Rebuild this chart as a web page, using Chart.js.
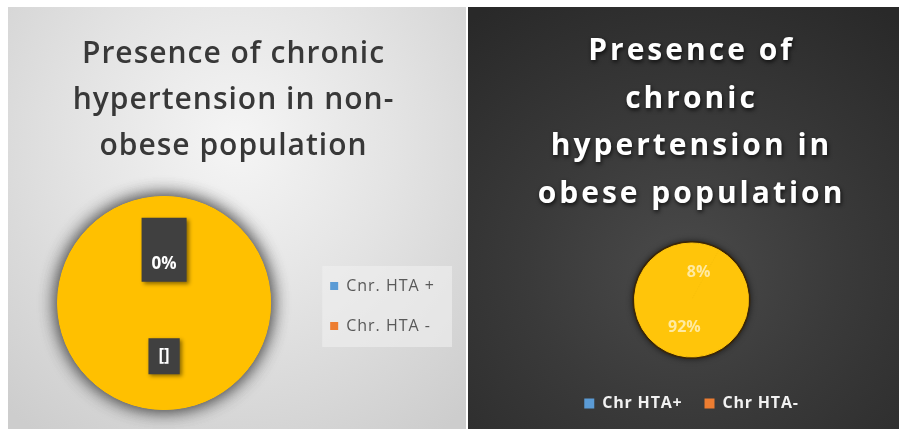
<!DOCTYPE html>
<html>
<head>
<meta charset="utf-8">
<title>Chronic hypertension by obesity status</title>
<script src="https://cdn.jsdelivr.net/npm/chart.js@4.4.1/dist/chart.umd.min.js"></script>
<style>
  html, body { margin: 0; padding: 0; background: #ffffff; }
  body { width: 899px; height: 429px; position: relative; overflow: hidden; }
  .panel { position: absolute; top: 7px; height: 422px; }
  #leftPanel {
    left: 8px; width: 458px;
    background: radial-gradient(ellipse 75% 85% at 50% 32%, #f5f5f5 0%, #e4e4e4 45%, #cdcdcd 100%);
  }
  #rightPanel {
    left: 468px; width: 431px;
    background: radial-gradient(ellipse 80% 75% at 50% 62%, #4a4a4a 0%, #3a3a3a 45%, #292929 100%);
  }
  canvas { display: block; }
</style>
</head>
<body>
<div class="panel" id="leftPanel"><canvas id="leftChart" width="458" height="422"></canvas></div>
<div class="panel" id="rightPanel"><canvas id="rightChart" width="431" height="422"></canvas></div>
<script>
// ---- data ----
const leftTitle = ['Presence of chronic', 'hypertension in non-', 'obese population'];
const leftCategories = ['Cnr. HTA +', 'Chr. HTA -'];
const leftValues = [0, 100];
const leftLabels = [['', '0%'], ['[]']];

const rightTitle = ['Presence of', 'chronic', 'hypertension in', 'obese population'];
const rightCategories = ['Chr HTA+', 'Chr HTA-'];
const rightValues = [8, 92];
const rightLabels = ['8%', '92%'];

const legendColors = ['#5B9BD5', '#ED7D31'];

// ---- helpers ----
function swatchLabels(colors, textColor) {
  return (chart) => chart.data.labels.map((text, i) => ({
    text,
    fillStyle: colors[i],
    strokeStyle: colors[i],
    lineWidth: 0,
    fontColor: textColor,
    hidden: false,
    index: i,
    datasetIndex: 0
  }));
}

// Letter spacing / shadow for title and legend, plus an optional legend backdrop.
const panelText = {
  id: 'panelText',
  beforeLayout(chart, args, o) {
    chart.ctx.letterSpacing = o.legendSpacing || '0px';
  },
  beforeDraw(chart, args, o) {
    const ctx = chart.ctx;
    ctx.letterSpacing = o.legendSpacing || '0px';
    const tb = chart.titleBlock;
    if (tb && !tb.__styled) {
      const base = tb.draw;
      tb.draw = function (area) {
        ctx.save();
        ctx.letterSpacing = o.titleSpacing || '0px';
        if (o.titleShadow) {
          ctx.shadowColor = o.titleShadow.color;
          ctx.shadowBlur = o.titleShadow.blur;
          ctx.shadowOffsetX = o.titleShadow.x;
          ctx.shadowOffsetY = o.titleShadow.y;
        }
        base.call(this, area);
        ctx.restore();
      };
      tb.__styled = true;
    }
    if (o.legendBackdrop) {
      const boxes = chart.legend.legendHitBoxes;
      if (boxes && boxes.length) {
        const b = o.legendBackdrop;
        let l = Infinity, t = Infinity, r = -Infinity, btm = -Infinity;
        boxes.forEach(h => {
          l = Math.min(l, h.left); t = Math.min(t, h.top);
          r = Math.max(r, h.left + h.width); btm = Math.max(btm, h.top + h.height);
        });
        ctx.save();
        ctx.fillStyle = b.color;
        ctx.fillRect(l - b.padLeft, t - b.padTop, (r - l) + b.padLeft + b.padRight, (btm - t) + b.padTop + b.padBottom);
        ctx.restore();
      }
    }
  }
};

// Solid disc with shadow/rim under the slices, so the slices show no seams.
const pieBackdrop = {
  id: 'pieBackdrop',
  beforeDatasetsDraw(chart, args, o) {
    const arc = chart.getDatasetMeta(0).data[0];
    if (!arc) return;
    const { x, y, outerRadius } = arc.getProps(['x', 'y', 'outerRadius'], true);
    const ctx = chart.ctx;
    ctx.save();
    ctx.shadowColor = o.shadowColor;
    ctx.shadowBlur = o.shadowBlur;
    ctx.shadowOffsetX = 0;
    ctx.shadowOffsetY = 0;
    ctx.fillStyle = o.rimColor;
    for (let k = 0; k < (o.passes || 1); k++) {
      ctx.beginPath();
      ctx.arc(x, y, outerRadius + o.rimWidth, 0, Math.PI * 2);
      ctx.fill();
    }
    ctx.restore();
  }
};

// Value labels at each slice's centre point.
const sliceLabels = {
  id: 'sliceLabels',
  afterDatasetsDraw(chart, args, o) {
    const meta = chart.getDatasetMeta(0);
    const ctx = chart.ctx;
    ctx.save();
    ctx.letterSpacing = '0px';
    ctx.font = o.font;
    ctx.textAlign = 'center';
    ctx.textBaseline = 'middle';
    meta.data.forEach((arc, i) => {
      const raw = o.texts[i];
      const lines = Array.isArray(raw) ? raw : [raw];
      const { x, y } = arc.getCenterPoint(true);
      const lh = o.lineHeight;
      const h = lines.length * lh;
      if (o.box) {
        const w = Math.max(...lines.map(s => ctx.measureText(s).width)) + o.box.padX * 2;
        const bh = h + o.box.padY * 2;
        ctx.save();
        ctx.shadowColor = o.box.shadow;
        ctx.shadowBlur = 4;
        ctx.shadowOffsetX = 2;
        ctx.shadowOffsetY = 2;
        ctx.fillStyle = o.box.color;
        ctx.fillRect(x - w / 2, y - bh / 2, w, bh);
        ctx.restore();
      }
      ctx.fillStyle = o.color;
      lines.forEach((s, j) => {
        ctx.fillText(s, x, y - h / 2 + lh * (j + 0.5));
      });
    });
    ctx.restore();
  }
};

Chart.defaults.font.family = "'Open Sans', 'DejaVu Sans', sans-serif";

// ---- non-obese ----
new Chart(document.getElementById('leftChart'), {
  type: 'pie',
  data: {
    labels: leftCategories,
    datasets: [{ data: leftValues, backgroundColor: '#FFC000', borderColor: '#FFC000', borderWidth: 1 }]
  },
  options: {
    responsive: false,
    animation: false,
    devicePixelRatio: 1,
    layout: { padding: { left: 14, right: 21, top: 0, bottom: 19 } },
    plugins: {
      title: {
        display: true,
        text: leftTitle,
        color: '#383838',
        font: { family: "'Open Sans', sans-serif", size: 30, weight: '600', lineHeight: 46 / 30 },
        padding: { top: 24.7, bottom: 26.3 }
      },
      legend: {
        position: 'right',
        fullSize: false,
        title: { display: true, text: '', padding: 0, font: { size: 6, lineHeight: 1 } },
        labels: {
          boxWidth: 8, boxHeight: 8, padding: 24,
          color: '#595959',
          font: { family: "'Open Sans', sans-serif", size: 16 },
          generateLabels: swatchLabels(legendColors, '#595959')
        }
      },
      tooltip: { enabled: false },
      panelText: {
        titleSpacing: '1px', legendSpacing: '1px',
        legendBackdrop: { color: 'rgba(240,240,240,0.6)', padLeft: 8, padRight: 17, padTop: 12, padBottom: 13 }
      },
      pieBackdrop: { shadowColor: 'rgba(60,60,60,0.8)', shadowBlur: 18, rimColor: '#FFC000', rimWidth: 0, passes: 2 },
      sliceLabels: {
        texts: leftLabels,
        font: "bold 17px 'Open Sans', sans-serif",
        color: '#ffffff',
        lineHeight: 28,
        box: { color: '#404040', padX: 10, padY: 4, shadow: 'rgba(0,0,0,0.45)' }
      }
    }
  },
  plugins: [panelText, pieBackdrop, sliceLabels]
});

// ---- obese ----
new Chart(document.getElementById('rightChart'), {
  type: 'pie',
  data: {
    labels: rightCategories,
    datasets: [{ data: rightValues, backgroundColor: '#FFC50A', borderColor: '#FFC50A', borderWidth: 1, radius: 57 }]
  },
  options: {
    responsive: false,
    animation: false,
    devicePixelRatio: 1,
    layout: { padding: { left: 16, right: 0, top: 0, bottom: 7.5 } },
    plugins: {
      title: {
        display: true,
        text: rightTitle,
        color: '#ffffff',
        font: { family: "'Open Sans', sans-serif", size: 30, weight: 'bold', lineHeight: 47.7 / 30 },
        padding: { top: 20.5, bottom: 8.2 }
      },
      legend: {
        position: 'bottom',
        labels: {
          boxWidth: 10, boxHeight: 10, padding: 22,
          color: '#f2f2f2',
          font: { family: "'Open Sans', sans-serif", size: 16, weight: 'bold' },
          generateLabels: swatchLabels(legendColors, '#f2f2f2')
        }
      },
      tooltip: { enabled: false },
      panelText: {
        titleSpacing: '3px', legendSpacing: '0.8px',
        titleShadow: { color: 'rgba(0,0,0,0.75)', blur: 4, x: 1, y: 2 }
      },
      pieBackdrop: { shadowColor: 'rgba(0,0,0,0.6)', shadowBlur: 6, rimColor: '#3a2608', rimWidth: 2 },
      sliceLabels: {
        texts: rightLabels,
        font: "bold 16px 'Open Sans', sans-serif",
        color: 'rgba(255,250,225,0.7)',
        lineHeight: 20
      }
    }
  },
  plugins: [panelText, pieBackdrop, sliceLabels]
});
</script>
</body>
</html>
